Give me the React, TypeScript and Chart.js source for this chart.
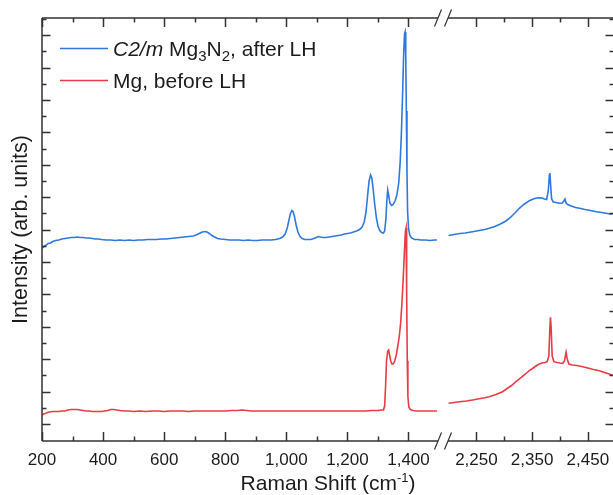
import React, { useEffect, useRef } from 'react';
import { Chart, registerables } from 'chart.js';

Chart.register(...registerables);

// ---------- data (Raman shift in cm^-1, intensity in arb. units) ----------
const blueLowShift = [200,205,210,215,220,228,235,245,255,265,275,285,295,305,315,325,335,345,355,365,375,385,395,410,425,440,455,470,485,500,515,530,545,560,575,590,605,620,635,650,665,680,695,705,715,725,733,740,748,756,765,775,785,800,815,830,845,860,875,890,905,920,935,950,965,978,988,996,1003,1008,1013,1018,1022,1027,1032,1038,1045,1052,1060,1070,1080,1090,1098,1105,1112,1120,1130,1140,1150,1160,1170,1180,1190,1200,1210,1220,1230,1240,1248,1255,1261,1266,1271,1276,1280,1285,1290,1295,1300,1306,1312,1318,1322,1326,1329,1332,1335,1339,1344,1350,1356,1362,1368,1373,1377,1381,1384,1387,1389,1391,1393,1395,1397,1400,1404,1410,1420,1430,1440,1455,1470,1485,1493];
const blueLowIntensity = [193,194,195.5,196,197.5,198,199.5,200.5,201,202,202.5,203,203.5,203.5,204,203.5,203.5,203,203,202.5,202,202,201.5,201,201,200.5,201,200.5,201,200.5,201,201,201.5,201.5,201.5,202,202,202.5,203,203.5,204,204.5,205,206,207.5,209,209.5,209,207.5,205.5,204,202.5,202,201.5,201,201,201,200.5,201,200.5,200.5,201,201,201,201.5,202.5,204,207,213,220,227,230.5,229.5,224,216,209,204.5,202.5,201.5,201.5,201.5,202.5,203.5,204.5,204,203.5,203.5,204,204.5,205,205.5,206,207,207.5,208,209,210,211.5,214,219,229,245,260,266,263,250,235,223,215,210.5,208.5,208,210,222,240,251,246,238,235.5,236.5,240,246,258,280,310,350,385,407,409,385,330,270,230,213,206,203,201.5,201.5,201,201,200.5,201,201];

const redLowShift = [200,205,210,218,225,235,245,255,265,275,285,295,305,315,325,335,345,355,365,375,385,395,405,415,425,435,445,455,470,485,500,520,540,560,580,600,620,640,660,680,700,720,740,760,780,800,820,840,855,870,885,900,920,940,960,980,1000,1020,1040,1060,1080,1100,1120,1140,1160,1180,1200,1220,1240,1260,1280,1300,1312,1318,1322,1325,1328,1332,1335,1338,1342,1346,1350,1355,1360,1365,1370,1374,1378,1382,1385,1388,1390,1392,1394,1396,1398,1401,1406,1415,1425,1440,1455,1470,1485,1493];
const redLowIntensity = [26,27,27.5,28.5,29,29.5,29.5,29.5,30,30,31,31.5,31.5,31.5,31,30.5,30,30,29.5,29.5,29.5,29.5,30,30.5,31.5,31.5,31,30.5,30,30,29.5,30,29.5,30,30,29.5,30,30,30,29.5,30,30,30,30,30,30,30.5,30.5,31,30.5,30,30,30,30,30,30,30,30,30,30,30,30,30,30,30,30,30,30,30,30,30.5,30.5,31,31,35,55,80,90,91,86,80,77,77,80,86,95,105,117,135,158,178,198,210,213,150,80,45,34,31.5,30.5,30,30,30,30,30,30];

const blueHighShift = [2200,2210,2220,2230,2243,2255,2265,2273,2283,2293,2303,2312,2320,2327,2335,2345,2352,2358,2363,2368,2372,2376,2379,2381,2382,2383,2385,2388,2393,2399,2404,2407,2409,2411,2414,2420,2428,2435,2445,2455,2465,2475,2485,2494];
const blueHighIntensity = [205.5,206.5,207.5,208,209.3,210.5,211.5,212.7,214.5,217,220,224,228.5,232.7,236.5,240.3,242,243,243.3,243,242,241.5,250,266,268,258,242,239,238.5,237.7,238,240,242,238,236.5,235,233.5,232.7,231.5,230.5,229.3,228.5,227.5,226.7];

const redHighShift = [2200,2210,2220,2232,2243,2255,2265,2273,2285,2297,2305,2313,2321,2330,2338,2345,2352,2358,2363,2368,2373,2377,2380,2382,2383,2384,2386,2389,2395,2400,2405,2408,2411,2413,2416,2422,2430,2441,2450,2460,2471,2480,2488,2494];
const redHighIntensity = [37.7,38.5,39.3,40,41,42.3,43.3,44.3,46.5,49.3,52.5,55.5,59.3,63.5,67,70.3,73,75.5,77,78,78.5,79.3,85,115,123.7,115,85,79.3,78.5,78,77.7,80,88.7,82,77,76,75.5,74.3,73,71.5,70.3,68.5,67,66];

// ---------- axis ticks ----------
const lowMajorTicks = [200, 400, 600, 800, 1000, 1200, 1400];
const lowMinorTicks = [300, 500, 700, 900, 1100, 1300];
const highMajorTicks = [2250, 2350, 2450];
const highMinorTicks = [2300, 2400];
const intensityTickStart = 17;
const intensityTickStep = 16.2;
const intensityTickCount = 26;

const legendLabels = ['C2/m Mg3N2, after LH', 'Mg, before LH'];

const BLUE = '#2f78dd';
const RED = '#eb3b45';
const AXIS = '#333333';
const TEXT = '#1c1c1c';
const FONT = '"Liberation Sans", Arial, sans-serif';

const CANVAS_W = 620;
const CANVAS_H = 495;

const toPoints = (xs: number[], ys: number[]) => xs.map((x, i) => ({ x, y: ys[i] }));

const framePlugin = {
  id: 'framePlugin',
  afterDraw(chart: any) {
    const { ctx, chartArea: a, scales } = chart;
    const lo = scales.xLow;
    const hi = scales.xHigh;
    const ys = scales.y;
    const bx = lo.right;
    ctx.save();
    ctx.strokeStyle = AXIS;
    ctx.lineWidth = 1.5;
    ctx.lineCap = 'butt';

    // frame with broken top / bottom
    ctx.beginPath();
    ctx.moveTo(a.left, a.top); ctx.lineTo(a.left, a.bottom);
    ctx.moveTo(a.right, a.top); ctx.lineTo(a.right, a.bottom);
    for (const yy of [a.top, a.bottom]) {
      ctx.moveTo(a.left, yy); ctx.lineTo(bx - 5, yy);
      ctx.moveTo(bx + 5, yy); ctx.lineTo(a.right, yy);
    }
    ctx.stroke();

    // break marks
    ctx.lineWidth = 1.2;
    ctx.beginPath();
    for (const yy of [a.top, a.bottom]) {
      for (const cx of [bx - 5, bx + 5]) {
        ctx.moveTo(cx - 3.5, yy + 8.5);
        ctx.lineTo(cx + 3.5, yy - 8.5);
      }
    }
    ctx.stroke();

    // x ticks (inward, top and bottom)
    ctx.lineWidth = 1.5;
    ctx.beginPath();
    const xt = (scale: any, v: number, len: number) => {
      const px = Math.round(scale.getPixelForValue(v)) + 0.5;
      ctx.moveTo(px, a.bottom); ctx.lineTo(px, a.bottom - len);
      ctx.moveTo(px, a.top); ctx.lineTo(px, a.top + len);
    };
    lowMajorTicks.forEach((v) => xt(lo, v, 9));
    lowMinorTicks.forEach((v) => xt(lo, v, 4.5));
    highMajorTicks.forEach((v) => xt(hi, v, 9));
    highMinorTicks.forEach((v) => xt(hi, v, 4.5));

    // y ticks (inward, left and right)
    for (let k = 0; k < intensityTickCount; k++) {
      const v = intensityTickStart + k * intensityTickStep;
      const py = Math.round(ys.getPixelForValue(v)) + 0.5;
      const len = k % 2 === 0 ? 8.5 : 4.5;
      ctx.moveTo(a.left, py); ctx.lineTo(a.left + len, py);
      ctx.moveTo(a.right, py); ctx.lineTo(a.right - len, py);
    }
    ctx.stroke();

    // tick labels
    ctx.fillStyle = TEXT;
    ctx.font = `17px ${FONT}`;
    ctx.textAlign = 'center';
    ctx.textBaseline = 'middle';
    lowMajorTicks.forEach((v) => ctx.fillText(v.toLocaleString('en-US'), lo.getPixelForValue(v), 460));
    highMajorTicks.forEach((v) => ctx.fillText(v.toLocaleString('en-US'), hi.getPixelForValue(v), 460));

    // x title with superscript
    ctx.textAlign = 'left';
    ctx.textBaseline = 'alphabetic';
    const big = `21px ${FONT}`;
    const small = `13px ${FONT}`;
    const p1 = 'Raman Shift (cm';
    const p2 = '-1';
    const p3 = ')';
    ctx.font = big; const w1 = ctx.measureText(p1).width; const w3 = ctx.measureText(p3).width;
    ctx.font = small; const w2 = ctx.measureText(p2).width;
    const total = w1 + w2 + w3;
    let tx = (a.left + a.right) / 2 - total / 2;
    const tb = 490;
    ctx.font = big; ctx.fillText(p1, tx, tb); tx += w1;
    ctx.font = small; ctx.fillText(p2, tx, tb - 8); tx += w2;
    ctx.font = big; ctx.fillText(p3, tx, tb);

    // y title
    ctx.save();
    ctx.translate(21, (a.top + a.bottom) / 2);
    ctx.rotate(-Math.PI / 2);
    ctx.textAlign = 'center';
    ctx.textBaseline = 'middle';
    ctx.font = `21.5px ${FONT}`;
    ctx.fillText('Intensity (arb. units)', 0, 0);
    ctx.restore();

    // legend
    const drawRuns = (runs: { t: string; f: string; dy: number }[], x: number, y: number) => {
      let cx = x;
      for (const r of runs) {
        ctx.font = r.f;
        ctx.fillText(r.t, cx, y + r.dy);
        cx += ctx.measureText(r.t).width;
      }
    };
    const italic = `italic 21px ${FONT}`;
    const sub = `15px ${FONT}`;
    const legendY = [48, 80];
    const colors = [BLUE, RED];
    ctx.lineWidth = 1.6;
    legendY.forEach((ly, i) => {
      ctx.strokeStyle = colors[i];
      ctx.beginPath();
      ctx.moveTo(60, ly + 0.5); ctx.lineTo(108, ly + 0.5);
      ctx.stroke();
    });
    ctx.fillStyle = TEXT;
    const base0 = legendY[0] + 7.5;
    drawRuns([
      { t: 'C2/m', f: italic, dy: 0 },
      { t: ' Mg', f: big, dy: 0 },
      { t: '3', f: sub, dy: 5 },
      { t: 'N', f: big, dy: 0 },
      { t: '2', f: sub, dy: 5 },
      { t: ', after LH', f: big, dy: 0 },
    ], 113, base0);
    drawRuns([{ t: legendLabels[1], f: big, dy: 0 }], 113, legendY[1] + 7.5);

    ctx.restore();
  },
};

export default function App() {
  const ref = useRef<HTMLCanvasElement | null>(null);
  useEffect(() => {
    if (!ref.current) return;
    const line = (label: string, data: any, color: string, xAxisID: string) => ({
      label,
      data,
      xAxisID,
      yAxisID: 'y',
      borderColor: color,
      backgroundColor: color,
      borderWidth: 1.6,
      pointRadius: 0,
      pointHoverRadius: 0,
      tension: 0,
      fill: false,
    });
    const chart = new Chart(ref.current, {
      type: 'line',
      data: {
        datasets: [
          line(legendLabels[1], toPoints(redLowShift, redLowIntensity), RED, 'xLow'),
          line(legendLabels[1] + ' (high)', toPoints(redHighShift, redHighIntensity), RED, 'xHigh'),
          line(legendLabels[0], toPoints(blueLowShift, blueLowIntensity), BLUE, 'xLow'),
          line(legendLabels[0] + ' (high)', toPoints(blueHighShift, blueHighIntensity), BLUE, 'xHigh'),
        ],
      },
      options: {
        animation: false,
        responsive: false,
        devicePixelRatio: 1,
        events: [],
        layout: { padding: { left: 42, top: 18, right: CANVAS_W - 614, bottom: CANVAS_H - 441 } },
        plugins: { legend: { display: false }, tooltip: { enabled: false }, title: { display: false } },
        scales: {
          xLow: { type: 'linear', position: 'bottom', stack: 'x', stackWeight: 401, min: 200, max: 1513, display: false },
          xHigh: { type: 'linear', position: 'bottom', stack: 'x', stackWeight: 171, min: 2190, max: 2497, display: false },
          y: { type: 'linear', position: 'left', min: 0, max: 423, display: false },
        },
      },
      plugins: [framePlugin],
    });
    return () => chart.destroy();
  }, []);
  return (
    <div style={{ position: 'absolute', left: 0, top: 0, width: 613, height: 495, overflow: 'hidden', background: '#fff' }}>
      <canvas ref={ref} width={CANVAS_W} height={CANVAS_H} style={{ display: 'block' }} />
    </div>
  );
}
